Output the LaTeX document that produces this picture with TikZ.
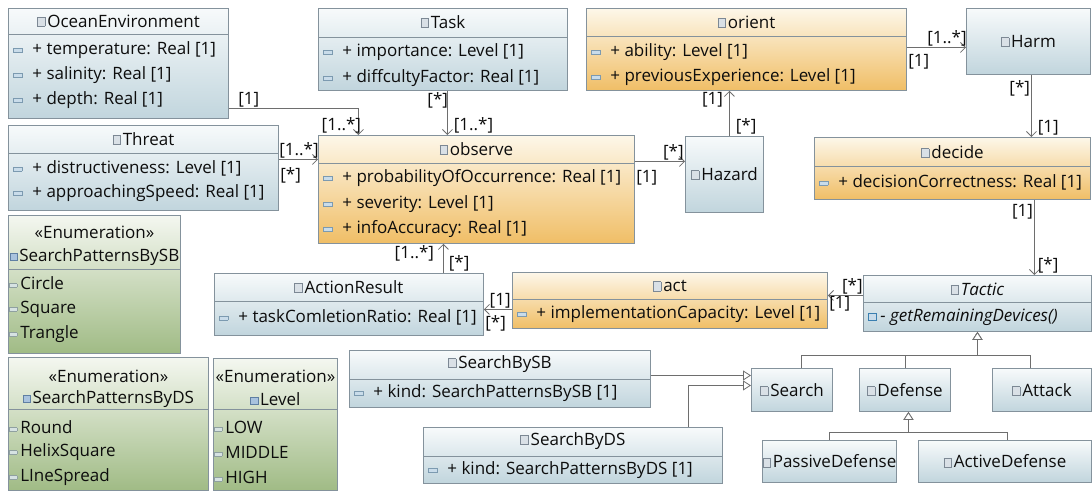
\documentclass[tikz,border=0pt]{standalone}
\usepackage{fontspec}
\setmainfont{Open Sans}
\usepackage{tikz}
\usetikzlibrary{calc,arrows.meta}

\definecolor{boxedge}{HTML}{84929C}
\definecolor{wire}{HTML}{6E6E6E}
\definecolor{blueT}{HTML}{F7FAFB}
\definecolor{blueB}{HTML}{C1D5DD}
\definecolor{orT}{HTML}{FDF7E9}
\definecolor{orB}{HTML}{F0BE66}
\definecolor{grT}{HTML}{F4F7F0}
\definecolor{grB}{HTML}{A0BB85}
\definecolor{icoline}{HTML}{7C8894}
\definecolor{icofill}{HTML}{D9E0E6}
\definecolor{attrline}{HTML}{7C9AB0}
\definecolor{attrfill}{HTML}{C9DCEA}
\definecolor{litline}{HTML}{8FA0A0}
\definecolor{litfill}{HTML}{D6E2E2}
\definecolor{enumline}{HTML}{5F7FA3}
\definecolor{enumfill}{HTML}{A9C3DE}
\definecolor{opcol}{HTML}{3A7FB0}

\setlength{\fboxsep}{0pt}
\setlength{\fboxrule}{0.6pt}
% little compartment icons
\newcommand{\clsicon}{\raisebox{1pt}{\fcolorbox{icoline}{icofill}{\rule{0pt}{8.5pt}\rule{7pt}{0pt}}}\hspace{2pt}}
\newcommand{\enumicon}{\raisebox{1pt}{\fcolorbox{enumline}{enumfill}{\rule{0pt}{7pt}\rule{7pt}{0pt}}}\hspace{1.5pt}}
\newcommand{\attricon}{\raisebox{2pt}{\fcolorbox{attrline}{attrfill}{\rule{0pt}{4pt}\rule{8pt}{0pt}}}\hspace{10pt}}
\newcommand{\liticon}{\raisebox{2.5pt}{\fcolorbox{litline}{litfill}{\rule{0pt}{3pt}\rule{7pt}{0pt}}}\hspace{3pt}}
\newcommand{\opicon}{\raisebox{1pt}{\fcolorbox{opcol}{attrfill}{\rule{0pt}{7pt}\rule{7pt}{0pt}}}\hspace{4pt}}
% a class rectangle from its two corners
\newcommand{\umlbox}[6]{\node[#2, minimum width=#5pt-#3pt, minimum height=#6pt-#4pt] (#1) at (#3,#4) {};}
\newcommand{\compline}[2]{\draw[boxedge, line width=0.9pt] (#1.west |- 0,#2) -- (#1.east |- 0,#2);}

\begin{document}
\begin{tikzpicture}[x=1pt, y=-1pt, font=\fontsize{17}{20}\selectfont,
  box/.style={draw=boxedge, line width=0.9pt, anchor=north west, inner sep=0pt},
  bluebox/.style={box, top color=blueT, bottom color=blueB},
  orangebox/.style={box, top color=orT, bottom color=orB},
  greenbox/.style={box, top color=grT, bottom color=grB},
  attr/.style={anchor=west, inner sep=0pt, text=black!95},
  title/.style={inner sep=0pt, text=black!95},
  mult/.style={inner sep=1pt, text=black!95},
  assoc/.style={draw=wire, line width=0.8pt, -{Straight Barb[length=5pt, width=10pt]}},
  gen/.style={draw=wire, line width=0.8pt, -{Triangle[open, length=8pt, width=10pt, fill=white]}}]
\useasboundingbox (0,0) rectangle (1092,491);
\fill[white] (0,0) rectangle (1092,491);

% classes
\umlbox{ocean}{bluebox}{8}{8}{228}{118}
\compline{ocean}{34}
\node[title] (ocean-t) at (ocean.north |- 0,21) {\clsicon OceanEnvironment};
\node[attr] (ocean-a1) at (13,50) {\attricon + temperature: Real [1]};
\node[attr] (ocean-a2) at (13,75) {\attricon + salinity: Real [1]};
\node[attr] (ocean-a3) at (13,100) {\attricon + depth: Real [1]};

\umlbox{threat}{bluebox}{8}{125}{278}{210}
\compline{threat}{153}
\node[title] (threat-t) at (threat.north |- 0,139) {\clsicon Threat};
\node[attr] (threat-a1) at (13,168) {\attricon + distructiveness: Level [1]};
\node[attr] (threat-a2) at (13,193) {\attricon + approachingSpeed: Real [1]};

\umlbox{task}{bluebox}{318}{8}{567}{90}
\compline{task}{37}
\node[title] (task-t) at (task.north |- 0,22) {\clsicon Task};
\node[attr] (task-a1) at (323,52) {\attricon + importance: Level [1]};
\node[attr] (task-a2) at (323,78) {\attricon + diffcultyFactor: Real [1]};

\umlbox{orient}{orangebox}{586}{8}{906}{90}
\compline{orient}{36}
\node[title] (orient-t) at (orient.north |- 0,22) {\clsicon orient};
\node[attr] (orient-a1) at (591,52) {\attricon + ability: Level [1]};
\node[attr] (orient-a2) at (591,77) {\attricon + previousExperience: Level [1]};

\umlbox{harm}{bluebox}{966}{8}{1090}{74}
\node[title] (harm-t) at (harm.center) {\clsicon Harm};

\umlbox{hazard}{bluebox}{685}{136}{763}{212}
\node[title] (hazard-t) at (hazard.north |- 0,174) {\clsicon Hazard};

\umlbox{decide}{orangebox}{814}{137}{1090}{199}
\compline{decide}{166}
\node[title] (decide-t) at (decide.north |- 0,152) {\clsicon decide};
\node[attr] (decide-a1) at (819,182) {\attricon + decisionCorrectness: Real [1]};

\umlbox{observe}{orangebox}{318}{135}{634}{243}
\compline{observe}{163}
\node[title] (observe-t) at (observe.north |- 0,149) {\clsicon observe};
\node[attr] (observe-a1) at (323,178) {\attricon + probabilityOfOccurrence: Real [1]};
\node[attr] (observe-a2) at (323,204) {\attricon + severity: Level [1]};
\node[attr] (observe-a3) at (323,229) {\attricon + infoAccuracy: Real [1]};

\umlbox{actres}{bluebox}{214}{273}{483}{335}
\compline{actres}{301}
\node[title] (actres-t) at (actres.north |- 0,287) {\clsicon ActionResult};
\node[attr] (actres-a1) at (219,317) {\attricon + taskComletionRatio: Real [1]};

\umlbox{act}{orangebox}{512}{272}{827}{328}
\compline{act}{299}
\node[title] (act-t) at (act.north |- 0,286) {\clsicon act};
\node[attr] (act-a1) at (517,314) {\attricon + implementationCapacity: Level [1]};

\umlbox{tactic}{bluebox}{863}{275}{1091}{331}
\compline{tactic}{302}
\node[title] (tactic-t) at (tactic.north |- 0,289) {\clsicon\textit{Tactic}};
\node[attr] (tactic-o1) at (868,317) {\opicon\textit{- getRemainingDevices()}};

\umlbox{search}{bluebox}{751}{368}{832}{411}
\node[title] (search-t) at (search.center) {\clsicon Search};
\umlbox{defense}{bluebox}{859}{368}{950}{411}
\node[title] (defense-t) at (defense.center) {\clsicon Defense};
\umlbox{attack}{bluebox}{992}{368}{1091}{411}
\node[title] (attack-t) at (attack.center) {\clsicon Attack};
\umlbox{passive}{bluebox}{762}{440}{896}{482}
\node[title] (passive-t) at (passive.center) {\clsicon PassiveDefense};
\umlbox{active}{bluebox}{918}{440}{1091}{482}
\node[title] (active-t) at (active.center) {\clsicon ActiveDefense};

\umlbox{bysb}{bluebox}{349}{350}{650}{407}
\compline{bysb}{379}
\node[title] (bysb-t) at (bysb.north |- 0,364) {\clsicon SearchBySB};
\node[attr] (bysb-a1) at (354,393) {\attricon + kind: SearchPatternsBySB [1]};

\umlbox{byds}{bluebox}{423}{427}{722}{483}
\compline{byds}{456}
\node[title] (byds-t) at (byds.north |- 0,441) {\clsicon SearchByDS};
\node[attr] (byds-a1) at (428,470) {\attricon + kind: SearchPatternsByDS [1]};

% enumerations
\umlbox{enumsb}{greenbox}{8}{215}{180}{353}
\compline{enumsb}{269}
\node[title] (enumsb-s) at (enumsb.north |- 0,232) {«Enumeration»};
\node[title] (enumsb-t) at (enumsb.north |- 0,257) {\enumicon SearchPatternsBySB};
\node[attr] (enumsb-l1) at (9,283) {\liticon Circle};
\node[attr] (enumsb-l2) at (9,309) {\liticon Square};
\node[attr] (enumsb-l3) at (9,334) {\liticon Trangle};

\umlbox{enumds}{greenbox}{8}{357}{208}{490}
\compline{enumds}{409}
\node[title] (enumds-s) at (enumds.north |- 0,376) {«Enumeration»};
\node[title] (enumds-t) at (enumds.north |- 0,399) {\enumicon SearchPatternsByDS};
\node[attr] (enumds-l1) at (9,427) {\liticon Round};
\node[attr] (enumds-l2) at (9,452) {\liticon HelixSquare};
\node[attr] (enumds-l3) at (9,477) {\liticon LIneSpread};

\umlbox{level}{greenbox}{213}{358}{337}{490}
\compline{level}{409}
\node[title] (level-s) at (level.north |- 0,376) {«Enumeration»};
\node[title] (level-t) at (level.north |- 0,399) {\enumicon Level};
\node[attr] (level-l1) at (214,427) {\liticon LOW};
\node[attr] (level-l2) at (214,452) {\liticon MIDDLE};
\node[attr] (level-l3) at (214,477) {\liticon HIGH};

% associations
\draw[assoc] ([yshift=-45pt]ocean.east) -| ([xshift=-118pt]observe.north)
  node[mult, pos=0, above right, xshift=8pt] (c1-s) {[1]}
  node[mult, pos=1, above left, xshift=4pt] (c1-e) {[1..*]};
\draw[assoc] ([yshift=8.5pt]threat.east) coordinate (c2) -- (c2 -| observe.west)
  node[mult, pos=0, below right, yshift=-7pt] (c2-s) {[*]}
  node[mult, pos=1, above left, xshift=2pt] (c2-e) {[1..*]};
\draw[assoc] ([xshift=4.5pt]task.south) coordinate (c3) -- (c3 |- observe.north)
  node[mult, pos=0, below left, xshift=2pt] (c3-s) {[*]}
  node[mult, pos=1, above right, xshift=5pt] (c3-e) {[1..*]};
\draw[assoc] ([yshift=28pt]observe.east) coordinate (c4) -- (c4 -| hazard.west)
  node[mult, pos=0, below right, yshift=-8pt] (c4-s) {[1]}
  node[mult, pos=1, above left] (c4-e) {[*]};
\draw[assoc] ([xshift=5pt]hazard.north) coordinate (c5) -- (c5 |- orient.south)
  node[mult, pos=0, above right, xshift=5pt] (c5-s) {[*]}
  node[mult, pos=1, below left, xshift=-5pt] (c5-e) {[1]};
\draw[assoc] ([yshift=2pt]orient.east) coordinate (c6) -- (c6 -| harm.west)
  node[mult, pos=0, below right, yshift=-6pt] (c6-s) {[1]}
  node[mult, pos=1, above left, xshift=2pt] (c6-e) {[1..*]};
\draw[assoc] ([xshift=3pt]harm.south) coordinate (c7) -- (c7 |- decide.north)
  node[mult, pos=0, below left, yshift=-4pt] (c7-s) {[*]}
  node[mult, pos=1, above right, xshift=5pt] (c7-e) {[1]};
\draw[assoc] ([xshift=82pt]decide.south) coordinate (c8) -- (c8 |- tactic.north)
  node[mult, pos=0, below left, yshift=-3pt] (c8-s) {[1]}
  node[mult, pos=1, above right, xshift=2pt] (c8-e) {[*]};
\draw[assoc] ([yshift=8pt]tactic.west) coordinate (c9) -- (c9 -| act.east)
  node[mult, pos=0, above left, xshift=1pt] (c9-s) {[*]}
  node[mult, pos=1, below right] (c9-e) {[1]};
\draw[assoc] ([yshift=-9pt]act.west) coordinate (c10) -- (c10 -| actres.east)
  node[mult, pos=0, above left] (c10-s) {[1]}
  node[mult, pos=1, below right, yshift=-5pt] (c10-e) {[*]};
\draw[assoc] ([xshift=94.5pt]actres.north) coordinate (c11) -- (c11 |- observe.south)
  node[mult, pos=0, above right, xshift=4pt] (c11-s) {[*]}
  node[mult, pos=1, below left, xshift=-8pt] (c11-e) {[1..*]};

% generalizations
\draw[gen] ([xshift=9pt]search.north) |- ([yshift=-23pt]tactic.south) -- (tactic.south);
\draw[gen] (defense.north) |- ([yshift=-23pt]tactic.south) -- (tactic.south);
\draw[gen] ([xshift=-11.5pt]attack.north) |- ([yshift=-23pt]tactic.south) -- (tactic.south);
\draw[gen] (passive.north) |- ([xshift=3.5pt, yshift=-20pt]defense.south) -- ([xshift=3.5pt]defense.south);
\draw[gen] ([xshift=2.5pt]active.north) |- ([xshift=3.5pt, yshift=-20pt]defense.south) -- ([xshift=3.5pt]defense.south);
\draw[gen] ([yshift=3.5pt]bysb.east) coordinate (g1) -- (g1 -| search.west);
\draw[gen] ([xshift=115.5pt]byds.north) |- ([yshift=4.5pt]search.west);
\end{tikzpicture}
\end{document}
